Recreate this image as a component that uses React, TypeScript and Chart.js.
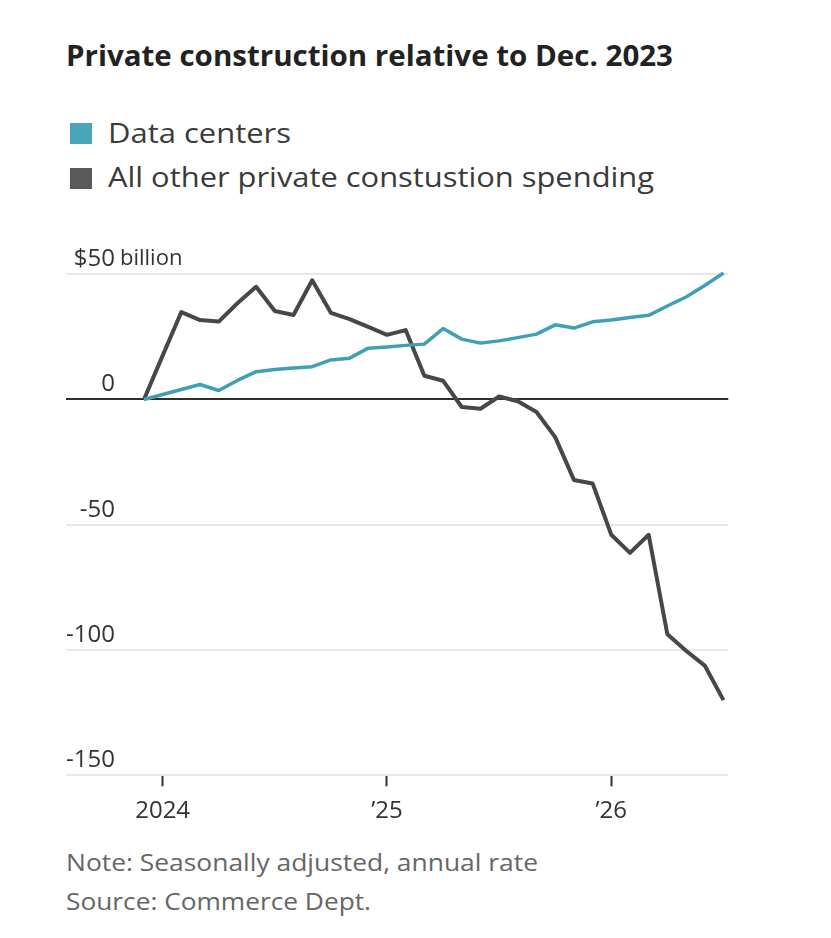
import React, { useEffect, useLayoutEffect, useRef } from "react";
import { Chart, registerables } from "chart.js";

Chart.register(...registerables);

// ---- data ----
const months = [
  "Dec 2023",
  "Jan 2024", "Feb 2024", "Mar 2024", "Apr 2024", "May 2024", "Jun 2024",
  "Jul 2024", "Aug 2024", "Sep 2024", "Oct 2024", "Nov 2024", "Dec 2024",
  "Jan 2025", "Feb 2025", "Mar 2025", "Apr 2025", "May 2025", "Jun 2025",
  "Jul 2025", "Aug 2025", "Sep 2025", "Oct 2025", "Nov 2025", "Dec 2025",
  "Jan 2026", "Feb 2026", "Mar 2026", "Apr 2026", "May 2026", "Jun 2026",
  "Jul 2026",
];

const dataCenters = [
  0, 2, 4, 6, 3.6, 7.6, 11.1, 12, 12.6, 13.1, 15.8, 16.5, 20.5,
  21, 21.6, 22.1, 28.3, 24.1, 22.5, 23.4, 24.7, 26.1, 29.8, 28.5, 31,
  31.7, 32.7, 33.6, 37.3, 40.9, 45.5, 50.5,
];

const allOther = [
  0, 17.5, 34.9, 31.7, 31.1, 38.4, 45, 35.3, 33.7, 47.6, 34.6, 32.1, 29,
  25.8, 27.7, 9.5, 7.5, -3.0, -3.7, 1.2, -0.7, -5.0, -15, -32.1, -33.5,
  -54, -61.2, -54, -93.7, -100.3, -106.2, -120,
];

const yTicks = [50, 0, -50, -100, -150];
const yTickLabels = ["$50", "0", "-50", "-100", "-150"];
const yUnitLabel = "billion";

const xTickMonths = ["Jan 2024", "Jan 2025", "Jan 2026"];
const xTickLabels = ["2024", "\u201925", "\u201926"];

const titleText = "Private construction relative to Dec. 2023";
const legendLabels = ["Data centers", "All other private constustion spending"];
const noteText = "Note: Seasonally adjusted, annual rate";
const sourceText = "Source: Commerce Dept.";

// ---- styles ----
const FONT = "'Open Sans', 'Noto Sans', sans-serif";
const TEAL = "#3f9fb5";
const TEAL_SWATCH = "#4aa5ba";
const GRAY = "#474747";
const GRAY_SWATCH = "#595959";

function FitText(props: {
  text: string;
  left: number;
  top: number;
  width: number;
  size: number;
  weight?: number;
  color: string;
}) {
  const ref = useRef<HTMLSpanElement>(null);
  useLayoutEffect(() => {
    const el = ref.current;
    if (!el) return;
    const fit = () => {
      el.style.transform = "none";
      const w = el.getBoundingClientRect().width;
      if (w > 0) el.style.transform = `scaleX(${props.width / w})`;
    };
    fit();
    const fonts = (document as any).fonts;
    if (fonts && fonts.ready) fonts.ready.then(fit);
  }, [props.text, props.width]);
  return (
    <span
      ref={ref}
      style={{
        position: "absolute",
        left: props.left,
        top: props.top,
        display: "inline-block",
        whiteSpace: "nowrap",
        transformOrigin: "0 0",
        fontFamily: FONT,
        fontSize: props.size,
        lineHeight: `${props.size}px`,
        fontWeight: props.weight ?? 400,
        color: props.color,
      }}
    >
      {props.text}
    </span>
  );
}

export default function App() {
  const canvasRef = useRef<HTMLCanvasElement>(null);

  useEffect(() => {
    const canvas = canvasRef.current;
    if (!canvas) return;

    const yBuild = (s: any) => {
      s.ticks = yTicks.map((v) => ({ value: v }));
    };
    const yFit = (s: any) => {
      s.width = 0;
      s.paddingTop = 0;
      s.paddingBottom = 0;
    };

    const chart = new Chart(canvas, {
      type: "line",
      data: {
        datasets: [
          {
            label: legendLabels[0],
            data: dataCenters.map((v, i) => ({ x: i, y: v })),
            borderColor: TEAL,
            backgroundColor: TEAL,
            borderWidth: 3.5,
            pointRadius: 0,
            tension: 0,
            borderJoinStyle: "round",
          },
          {
            label: legendLabels[1],
            data: allOther.map((v, i) => ({ x: i, y: v })),
            borderColor: GRAY,
            backgroundColor: GRAY,
            borderWidth: 4,
            pointRadius: 0,
            tension: 0,
            borderJoinStyle: "round",
          },
        ],
      },
      options: {
        responsive: false,
        animation: false,
        events: [],
        layout: {
          padding: { left: 66, right: 102.7, top: 31.7, bottom: 14.7 },
        },
        plugins: {
          legend: { display: false },
          title: { display: false },
          tooltip: { enabled: false },
        },
        scales: {
          x: {
            type: "linear",
            min: -4.17,
            max: 31.26,
            afterBuildTicks: (s: any) => {
              s.ticks = xTickMonths.map((m) => ({ value: months.indexOf(m) }));
            },
            afterFit: (s: any) => {
              s.height = 50;
              s.paddingLeft = 0;
              s.paddingRight = 0;
            },
            ticks: {
              autoSkip: false,
              maxRotation: 0,
              padding: 10,
              color: "#333",
              font: { family: FONT, size: 24 },
              callback: (v: any) => {
                const k = xTickMonths.indexOf(months[v as number]);
                return k >= 0 ? xTickLabels[k] : "";
              },
            },
            grid: {
              drawOnChartArea: false,
              drawTicks: true,
              tickLength: 11,
              tickColor: "#333",
              tickWidth: 2,
            },
            border: { display: false },
          },
          y: {
            type: "linear",
            position: "left",
            min: -150,
            max: 55,
            afterBuildTicks: yBuild,
            afterFit: yFit,
            ticks: {
              mirror: true,
              crossAlign: "far",
              padding: 0,
              labelOffset: -15,
              color: "#333",
              font: { family: FONT, size: 24 },
              callback: (v: any) => {
                const k = yTicks.indexOf(v as number);
                return k >= 0 ? yTickLabels[k] : "";
              },
            },
            grid: {
              drawTicks: false,
              color: (ctx: any) => (ctx.tick && ctx.tick.value === 0 ? "#2e2e2e" : "#e8e8e8"),
              lineWidth: 2,
            },
            border: { display: false },
          },
          y2: {
            type: "linear",
            position: "left",
            min: -150,
            max: 55,
            afterBuildTicks: yBuild,
            afterFit: yFit,
            ticks: {
              mirror: true,
              crossAlign: "near",
              padding: 54,
              labelOffset: -15,
              color: "#333",
              font: { family: FONT, size: 22 },
              callback: (v: any) => (v === yTicks[0] ? yUnitLabel : ""),
            },
            grid: { display: false },
            border: { display: false },
          },
        },
      },
    } as any);

    return () => chart.destroy();
  }, []);

  return (
    <div
      style={{
        position: "absolute",
        left: 0,
        top: 0,
        width: 831,
        height: 938,
        background: "#fff",
        overflow: "hidden",
      }}
    >
      <FitText text={titleText} left={66} top={40.3} width={607} size={29} weight={700} color="#222" />

      <div style={{ position: "absolute", left: 70, top: 123, width: 22, height: 21, background: TEAL_SWATCH }} />
      <FitText text={legendLabels[0]} left={108} top={118.4} width={183} size={28} color="#3a3a3a" />
      <div style={{ position: "absolute", left: 70, top: 167.5, width: 22, height: 21, background: GRAY_SWATCH }} />
      <FitText text={legendLabels[1]} left={108} top={162.4} width={546} size={28} color="#3a3a3a" />

      <canvas
        ref={canvasRef}
        width={831}
        height={610}
        style={{ position: "absolute", left: 0, top: 230, width: 831, height: 610 }}
      />

      <FitText text={noteText} left={66} top={851.3} width={472} size={23} color="#666" />
      <FitText text={sourceText} left={66} top={889.6} width={305} size={23} color="#666" />
    </div>
  );
}
